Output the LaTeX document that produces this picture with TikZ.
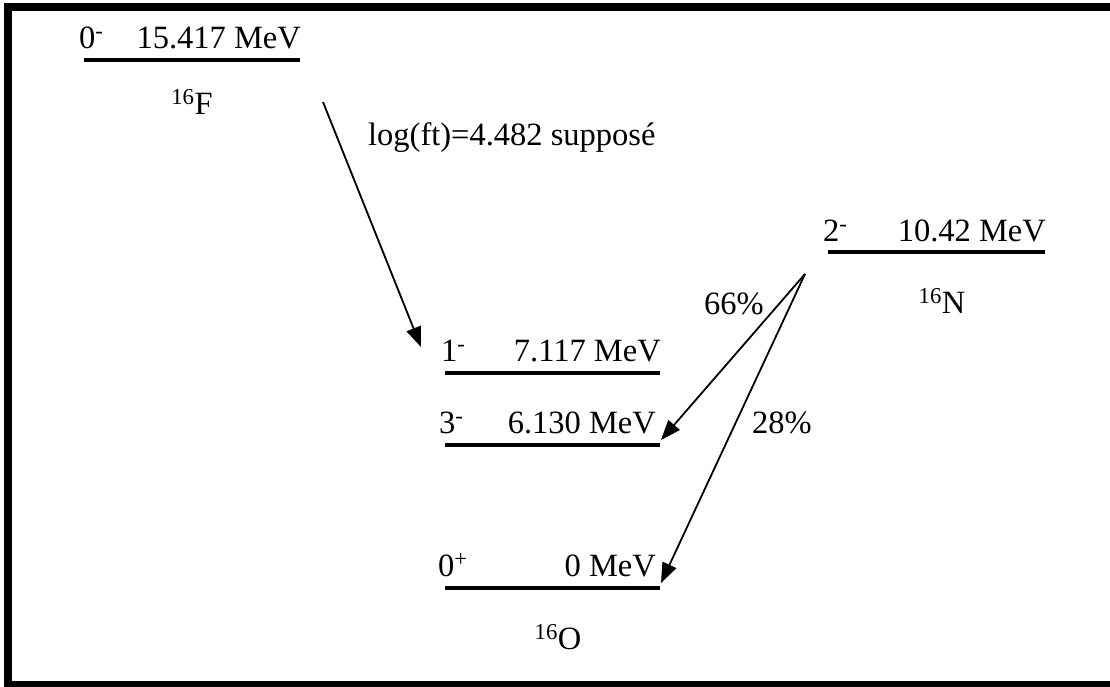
\documentclass[tikz,border=0pt]{standalone}
\usepackage{fontspec}
\setmainfont{Liberation Serif}
\usetikzlibrary{arrows.meta}
\begin{document}
\begin{tikzpicture}[x=1pt,y=-1pt,
  lbl/.style={inner sep=0pt, font=\fontsize{32.5}{39}\selectfont},
  levelline/.style={line width=4pt},
  trans/.style={line width=1.8pt, -{Triangle[length=20pt,width=15pt]}},
]
\useasboundingbox (0,0) rectangle (1110,686);
\begin{scope}
\clip (0,0) rectangle (1110,686);
\draw[line width=8pt] (8,6.5) rectangle (1120,685);
\end{scope}
% 16F
\coordinate (F0) at (84,60); \coordinate (F1) at (300,60);
\draw[levelline] (F0) -- (F1);
\node[lbl, anchor=base west] (Fj) at (79,48) {0\textsuperscript{-}};
\node[lbl, anchor=base east] (Fe) at (301,48) {15.417 MeV};
\node[lbl, anchor=base] (Fn) at (192,114) {\textsuperscript{16}F};
% 16O levels
\coordinate (A0) at (445,373); \coordinate (A1) at (660,373);
\draw[levelline] (A0) -- (A1);
\node[lbl, anchor=base west] (Aj) at (441,361) {1\textsuperscript{-}};
\node[lbl, anchor=base east] (Ae) at (661,361) {7.117 MeV};
\coordinate (B0) at (445,445); \coordinate (B1) at (660,445);
\draw[levelline] (B0) -- (B1);
\node[lbl, anchor=base west] (Bj) at (439,433) {3\textsuperscript{-}};
\node[lbl, anchor=base east] (Be) at (656,433) {6.130 MeV};
\coordinate (C0) at (445,588); \coordinate (C1) at (660,588);
\draw[levelline] (C0) -- (C1);
\node[lbl, anchor=base west] (Cj) at (438,576) {0\textsuperscript{+}};
\node[lbl, anchor=base east] (Ce) at (656,576) {0 MeV};
\node[lbl, anchor=base] (On) at (558,649) {\textsuperscript{16}O};
% 16N
\coordinate (N0) at (828,252); \coordinate (N1) at (1045,252);
\draw[levelline] (N0) -- (N1);
\node[lbl, anchor=base west] (Nj) at (823,241) {2\textsuperscript{-}};
\node[lbl, anchor=base east] (Ne) at (1046,241) {10.42 MeV};
\node[lbl, anchor=base] (Nn) at (942,313) {\textsuperscript{16}N};
% transitions
\coordinate (Fs) at (323,102); \coordinate (Ft) at (421,347);
\draw[trans] (Fs) -- (Ft);
\node[lbl, anchor=base west] (Flog) at (368,145) {log(ft)=4.482 supposé};
\coordinate (Ns) at (805,274);
\coordinate (T3) at (661,440);
\coordinate (T0) at (661,583);
\draw[trans] (Ns) -- (T3);
\draw[trans] (Ns) -- (T0);
\node[lbl, anchor=base west] (P66) at (704,314) {66\%};
\node[lbl, anchor=base west] (P28) at (752,433) {28\%};
\end{tikzpicture}
\end{document}
